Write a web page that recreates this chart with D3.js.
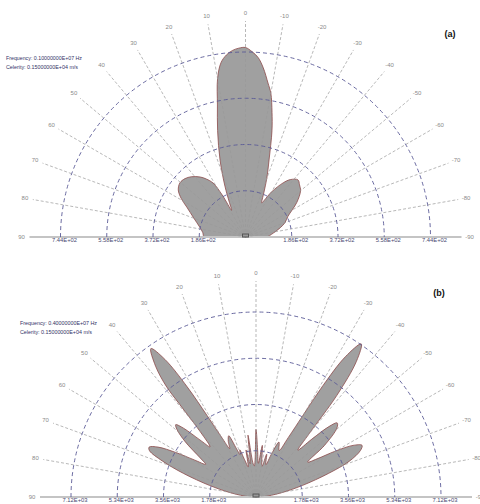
<!DOCTYPE html>
<html><head><meta charset="utf-8">
<script src="https://cdn.jsdelivr.net/npm/d3@7"></script>
<style>body{margin:0;background:#fff} svg{display:block}</style>
</head><body>
<svg id="c" width="480" height="504"></svg>
<script>
// ---------- data ----------
const spokeAngles = [90,80,70,60,50,40,30,20,10,0,-10,-20,-30,-40,-50,-60,-70,-80,-90];

const ringsA = [186, 372, 558, 744];
const ringLabelsA = ["1.86E+02","3.72E+02","5.58E+02","7.44E+02"];
const infoA = ["Frequency: 0.10000000E+07 Hz", "Celerity: 0.15000000E+04 m/s"];
// angle (deg, positive = left of 0) and response value
const anglesA = [-90,-82,-75,-70,-64,-56,-50,-46,-42.6,-38,-34.8,-30,-27,-25.5,-22.5,-20,-17,-14,-12,-10,-8.3,-6,-4,-2,0,2,4,6,8,10,12,14.7,18.3,22,25,27.5,29,31,34,37,42,46,50.5,55,59,63,70,77.6,84,90];
const valuesA = [88,113,145,169,190,249,289,302,312,293,265,209,165,152,193,250,324,440,513,587,626,684,724,746,762,760,752,736,708,647,543,442,326,221,153,121,193,253,281,302,326,338,342,330,302,265,221,189,173,169];

const ringsB = [1780, 3560, 5340, 7120];
const ringLabelsB = ["1.78E+03","3.56E+03","5.34E+03","7.12E+03"];
const infoB = ["Frequency: 0.40000000E+07 Hz", "Celerity: 0.15000000E+04 m/s"];
const anglesB = [-90,-85,-80,-76,-72,-69,-66,-64,-62,-60,-58,-56,-53,-49.5,-47.6,-46,-44,-41.8,-40,-38.5,-36.5,-34.5,-32.5,-31,-30,-28.5,-26.5,-22.7,-20,-17,-14,-11,-7,-4,-2,0,3,5,7.4,10,12,14.5,17,19,20.5,22,24,26.5,28.5,30,31,32,33.5,35.3,37.5,39,39.5,40.5,42.5,44.5,46.5,48,49.5,52,55,57,59,61,63,65,66.5,69,72,76,80,85,90];
const valuesB = [150,460,1080,1850,2930,3850,4400,4540,4230,3540,2770,2400,3300,4100,4230,3900,3100,2420,3200,5000,6500,7150,6400,5000,3700,2600,2000,2290,1800,1300,1700,1200,2000,1300,1800,2600,1200,1300,2400,1300,1850,1200,1500,1920,1730,2000,2580,2390,2120,2700,3660,5000,6350,7000,6350,5500,4600,3300,2620,3080,3850,4160,4000,3460,2620,2310,2770,3540,4230,4540,4470,3850,2930,1850,1080,460,150];

// ---------- drawing ----------
const svg = d3.select("#c");
const font = "'Liberation Sans', Arial, sans-serif";

function panel(o) {
  const g = svg.append("g").attr("transform", `translate(${o.cx},${o.cy})`);
  const r = d3.scaleLinear().domain([0, o.rings[o.rings.length-1]]).range([0, 185]);
  const spokeLen = 216, labelR = 224;

  // pattern
  const pts = o.angles.map((a,i)=>[-a*Math.PI/180, r(o.values[i])]);
  const line = d3.lineRadial().angle(d=>d[0]).radius(d=>d[1]).curve(d3.curveCatmullRom.alpha(0.5));
  g.append("path")
    .attr("d", line(pts) + "L0,0Z")
    .attr("fill", "#a0a0a0").attr("stroke", "#8c4a4a").attr("stroke-width", 0.8);

  // baseline
  g.append("line").attr("x1", -spokeLen).attr("x2", spokeLen).attr("y1", 0).attr("y2", 0)
    .attr("stroke", "#c4c4c4").attr("stroke-width", 2);

  // spokes
  spokeAngles.filter(a=>Math.abs(a)<90).forEach(a=>{
    const t = a*Math.PI/180;
    g.append("line").attr("x1",0).attr("y1",0)
      .attr("x2", -spokeLen*Math.sin(t)).attr("y2", -spokeLen*Math.cos(t))
      .attr("stroke","#9a9a9a").attr("stroke-width",0.7).attr("stroke-dasharray","3,2");
  });
  // spoke labels
  spokeAngles.forEach(a=>{
    const t = a*Math.PI/180;
    g.append("text").attr("x", -labelR*Math.sin(t)).attr("y", -labelR*Math.cos(t))
      .attr("text-anchor","middle").attr("dominant-baseline","central")
      .attr("font-family",font).attr("font-size",6).attr("fill","#8a8a8a")
      .text(a);
  });

  // rings (upper half only, single stroke)
  o.rings.forEach((v,i)=>{
    const p = d3.path();
    p.moveTo(-r(v), 0);
    p.arc(0, 0, r(v), Math.PI, 2*Math.PI);
    g.append("path").attr("d", p.toString())
      .attr("fill","none").attr("stroke","#5a5a96").attr("stroke-width",0.9)
      .attr("stroke-dasharray","4,3");
    [-1,1].forEach(s=>{
      g.append("text").attr("x", s*r(v)+4).attr("y", 3)
        .attr("text-anchor","middle").attr("dominant-baseline","central")
        .attr("font-family",font).attr("font-size",5.8).attr("fill","#4a4a72")
        .text(o.ringLabels[i]);
    });
  });

  // center mark
  g.append("rect").attr("x",-3).attr("y",-3).attr("width",6).attr("height",3)
    .attr("fill","none").attr("stroke","#555").attr("stroke-width",1);

  // info text
  o.info.forEach((t,i)=>{
    svg.append("text").attr("x", o.infoX).attr("y", o.infoY + i*8.5)
      .attr("font-family",font).attr("font-size",6).attr("fill","#333366")
      .attr("textLength", o.infoW[i]).attr("lengthAdjust","spacingAndGlyphs").text(t);
  });
  svg.append("text").attr("x", o.tagX).attr("y", o.tagY)
    .attr("text-anchor","middle").attr("font-family",font).attr("font-weight","bold")
    .attr("font-size",9).attr("fill","#111").text(o.tag);
}

panel({cx:245.5, cy:237, rings:ringsA, ringLabels:ringLabelsA, angles:anglesA, values:valuesA,
       info:infoA, infoX:6, infoY:60, infoW:[76,72], tag:"(a)", tagX:450, tagY:37});
panel({cx:256, cy:497, rings:ringsB, ringLabels:ringLabelsB, angles:anglesB, values:valuesB,
       info:infoB, infoX:20, infoY:325, infoW:[77,72], tag:"(b)", tagX:439, tagY:296});
</script>
</body></html>
